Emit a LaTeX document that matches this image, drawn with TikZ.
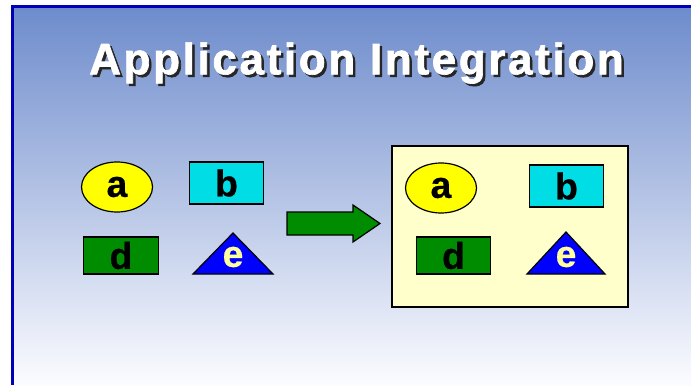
\documentclass[tikz,border=0pt]{standalone}
\usepackage{fontspec}
\setmainfont{Liberation Sans}
\usetikzlibrary{shapes.geometric}

\definecolor{framebl}{RGB}{0,0,180}
\definecolor{skytop}{RGB}{110,140,204}
\definecolor{skymid}{RGB}{178,192,228}
\definecolor{skybot}{RGB}{252,252,255}
\definecolor{appyellow}{RGB}{255,255,0}
\definecolor{appcyan}{RGB}{0,221,228}
\definecolor{appgreen}{RGB}{0,140,0}
\definecolor{appblue}{RGB}{0,0,255}
\definecolor{boxyellow}{RGB}{255,255,204}
\definecolor{elabel}{RGB}{255,255,153}

\begin{document}
\begin{tikzpicture}[x=0.75pt,y=-0.75pt,
    app/.style={draw=black,line width=0.9pt},
    lbl/.style={font=\addfontfeature{FakeBold=0.6}\fontsize{28}{30}\selectfont\bfseries,inner sep=0pt},
    appellipse/.style={app,ellipse,fill=appyellow,minimum width=53.25pt,minimum height=37.5pt},
    apprect/.style={app,rectangle,minimum width=56pt,minimum height=#1},
    titletext/.style={font=\addfontfeature{LetterSpace=6,FakeBold=1.5}\fontsize{33}{36}\selectfont\bfseries}]
  \useasboundingbox (0,0) rectangle (691,385);
  \fill[white] (0,0) rectangle (691,385);
  \shade[top color=skytop, middle color=skymid, bottom color=skybot] (13,8) rectangle (691,385);
  \fill[framebl] (11,5) rectangle (691,8);
  \fill[framebl] (11,5) rectangle (14,385);

  % title
  \node[titletext,text=black!85] (titleshadow) at (359,65.5) {Application Integration};
  \node[titletext,text=white] (title) at (356.5,63) {Application Integration};

  % separate applications
  \node[appellipse] (a1) at (117,187) {};
  \node[lbl] at (a1) {a};
  \node[apprect=31.5pt,fill=appcyan] (b1) at (226.5,183) {};
  \node[lbl] at (b1) {b};
  \node[apprect=27.75pt,fill=appgreen] (d1) at (121,255.5) {};
  \node[lbl] at (d1) {d};
  \draw[app,fill=appblue] (233,233) -- (273,274) -- (193,274) -- cycle;
  \node[lbl,text=elabel] (e1) at (233,257) {e};

  % arrow
  \draw[app,fill=appgreen] (287,212) -- (353,212) -- (353,205) -- (380,223.5)
    -- (353,242) -- (353,235) -- (287,235) -- cycle;

  % integrated
  \node[app,line width=1.2pt,fill=boxyellow,minimum width=177pt,minimum height=120.75pt] (target) at (510,226.5) {};
  \node[appellipse] (a2) at (441,188) {};
  \node[lbl] at (a2) {a};
  \node[apprect=31.5pt,fill=appcyan] (b2) at (566.5,186) {};
  \node[lbl] at (b2) {b};
  \node[apprect=27.75pt,fill=appgreen] (d2) at (453.5,255.5) {};
  \node[lbl] at (d2) {d};
  \draw[app,fill=appblue] (566,232) -- (605,274) -- (527,274) -- cycle;
  \node[lbl,text=elabel] (e2) at (566,257) {e};
\end{tikzpicture}
\end{document}
